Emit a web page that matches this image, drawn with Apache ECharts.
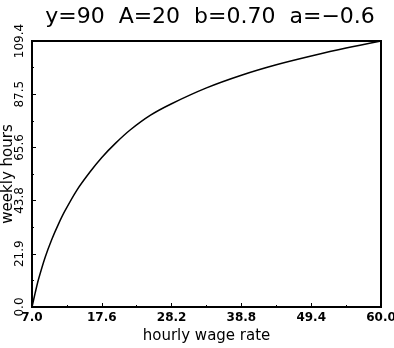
<!DOCTYPE html>
<html>
<head>
<meta charset="utf-8">
<script src="https://cdn.jsdelivr.net/npm/echarts@6/dist/echarts.min.js"></script>
<style>
  html, body { margin: 0; padding: 0; background: #fff; }
  #chart { width: 394px; height: 348px; }
</style>
</head>
<body>
<div id="chart"></div>
<script>
// values
const wage = [7.0, 7.5, 8.0, 9.0, 10.0, 11.0, 12.0, 13.8, 15.8, 17.6, 19.7, 21.9, 25.0, 28.2, 33.5, 38.8, 44.1, 49.4, 54.7, 60.0];
const hours = [0, 6.0, 11.5, 20.5, 27.8, 34.0, 39.5, 48.0, 55.5, 61.5, 67.4, 72.8, 78.9, 83.6, 90.1, 95.3, 99.6, 103.2, 106.5, 109.4];

// tick labels
const xTicks = [7.0, 17.6, 28.2, 38.8, 49.4, 60.0];
const yTicks = [0.0, 21.9, 43.8, 65.6, 87.5, 109.4];
const xMinor = [12.3, 22.9, 33.5, 44.1, 54.7];
const yMinor = [10.9, 32.8, 54.7, 76.6, 98.4];

const font = "DejaVu Sans";
const chart = echarts.init(document.getElementById("chart"));

const option = {
  animation: false,
  title: {
    text: "y=90  A=20  b=0.70  a=\u22120.6",
    left: 205,
    textAlign: "center",
    top: 1,
    textStyle: { fontFamily: font, fontSize: 22, fontWeight: "normal", color: "#000" },
  },
  grid: {
    left: 32, right: 13, top: 41, bottom: 41,
    outerBoundsMode: "none",
    containLabel: false,
    show: true, borderColor: "#000", borderWidth: 2,
  },
  xAxis: [
    {
      type: "value",
      min: 7, max: 60,
      name: "hourly wage rate",
      nameLocation: "middle",
      nameGap: 22,
      nameMoveOverlap: false,
      nameTextStyle: { fontFamily: font, fontSize: 15, color: "#000" },
      axisLine: { lineStyle: { color: "#000", width: 2 } },
      axisTick: { inside: true, length: 4, customValues: xTicks, lineStyle: { color: "#000" } },
      axisLabel: {
        customValues: xTicks, margin: 5,
        formatter: (v) => v.toFixed(1),
        fontFamily: font, fontSize: 12, fontWeight: "bold", color: "#000",
      },
      splitLine: { show: false },
    },
    {
      type: "value",
      min: 7, max: 60,
      position: "bottom",
      axisLine: { show: false },
      axisTick: { inside: true, length: 2, customValues: xMinor, lineStyle: { color: "#000" } },
      axisLabel: { show: false },
      splitLine: { show: false },
    },
  ],
  yAxis: [
    {
      type: "value",
      min: 0, max: 109.4,
      name: "weekly hours",
      nameLocation: "middle",
      nameRotate: 90,
      nameGap: 16,
      nameMoveOverlap: false,
      nameTextStyle: { fontFamily: font, fontSize: 15, color: "#000" },
      axisLine: { lineStyle: { color: "#000", width: 2 } },
      axisTick: { inside: true, length: 4, customValues: yTicks, lineStyle: { color: "#000" } },
      axisLabel: {
        customValues: yTicks, rotate: 90, margin: 6,
        formatter: (v) => v.toFixed(1),
        fontFamily: font, fontSize: 12, color: "#000",
      },
      splitLine: { show: false },
    },
    {
      type: "value",
      min: 0, max: 109.4,
      position: "left",
      axisLine: { show: false },
      axisTick: { inside: true, length: 2, customValues: yMinor, lineStyle: { color: "#000" } },
      axisLabel: { show: false },
      splitLine: { show: false },
    },
  ],
  series: [
    {
      type: "line",
      data: wage.map((w, i) => [w, hours[i]]),
      smooth: 0.3,
      symbol: "none",
      lineStyle: { color: "#000", width: 1.5 },
    },
  ],
};

chart.setOption(option);
</script>
</body>
</html>
